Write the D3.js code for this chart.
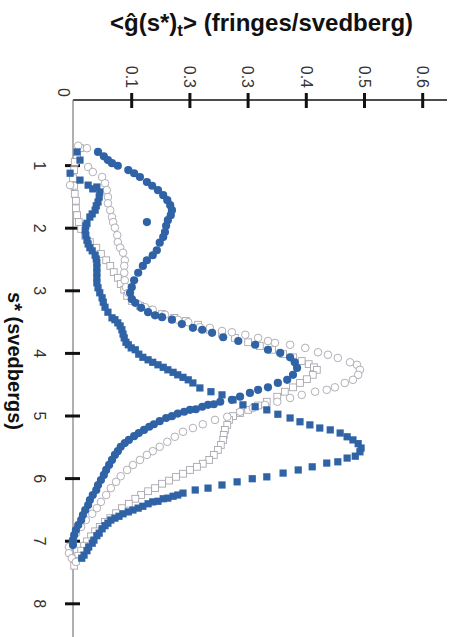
<!DOCTYPE html>
<html>
<head>
<meta charset="utf-8">
<script src="https://cdn.jsdelivr.net/npm/d3@7"></script>
<style>
  body { margin: 0; background: #fff; }
  text { font-family: "Liberation Sans", Arial, sans-serif; }
</style>
</head>
<body>
<div id="chart"></div>
<script>
/*
* DATA  (s* in svedbergs, g(s*) in fringes/svedberg)
*/
var gTicks = [0.1, 0.2, 0.3, 0.4, 0.5, 0.6];
var gTickLabels = ['0.1', '0.3', '0.3', '0.4', '0.5', '0.6'];
var sTicks = [1, 2, 3, 4, 5, 6, 7, 8];

// filled circles
var filledCircles = [[0.79,0.043],[0.86,0.053],[0.92,0.060],[0.97,0.067],[1.01,0.077],[1.08,0.095],[1.13,0.105],[1.19,0.115],[1.27,0.127],[1.33,0.136],[1.40,0.146],[1.48,0.155],[1.56,0.162],[1.64,0.167],[1.72,0.170],[1.80,0.168],[1.88,0.163],[1.91,0.127],[1.97,0.160],[2.07,0.158],[2.15,0.155],[2.24,0.149],[2.36,0.144],[2.44,0.137],[2.52,0.127],[2.61,0.120],[2.72,0.112],[2.84,0.105],[2.95,0.101],[3.04,0.098],[3.14,0.101],[3.20,0.107],[3.28,0.117],[3.35,0.129],[3.40,0.141],[3.43,0.153],[3.47,0.170],[3.54,0.187],[3.60,0.206],[3.63,0.222],[3.68,0.239],[3.75,0.258],[3.81,0.284],[3.87,0.313],[3.95,0.335],[4.00,0.356],[4.07,0.373],[4.15,0.381],[4.24,0.385],[4.35,0.378],[4.43,0.368],[4.48,0.352],[4.55,0.335],[4.59,0.318],[4.64,0.304],[4.70,0.287],[4.75,0.273],[4.78,0.253],[4.82,0.242],[4.83,0.232],[4.86,0.222],[4.90,0.211],[4.91,0.201],[4.94,0.191],[4.97,0.180],[5.01,0.170],[5.04,0.160],[5.09,0.149],[5.14,0.139],[5.18,0.131],[5.23,0.122],[5.28,0.113],[5.33,0.105],[5.39,0.096],[5.44,0.089],[5.50,0.082],[5.57,0.077],[5.63,0.072],[5.71,0.067],[5.79,0.062],[5.87,0.057],[5.95,0.053],[6.03,0.048],[6.11,0.043],[6.19,0.040],[6.27,0.034],[6.35,0.029],[6.43,0.026],[6.51,0.021],[6.59,0.017],[6.67,0.014],[6.75,0.009],[6.83,0.005],[6.91,0.002],[6.99,0.000],[7.07,0.000]];

// filled squares
var filledSquares = [[0.79,0.007],[0.92,0.012],[1.13,-0.005],[1.24,0.012],[1.32,0.026],[1.35,0.041],[1.38,0.034],[1.43,0.046],[1.51,0.045],[1.59,0.043],[1.65,0.040],[1.72,0.038],[1.78,0.033],[1.83,0.029],[1.93,0.024],[1.97,0.022],[2.04,0.021],[2.12,0.022],[2.20,0.024],[2.26,0.026],[2.32,0.029],[2.37,0.033],[2.44,0.038],[2.50,0.040],[2.56,0.041],[2.64,0.041],[2.72,0.041],[2.80,0.041],[2.88,0.041],[2.96,0.043],[3.04,0.046],[3.12,0.050],[3.19,0.052],[3.27,0.055],[3.35,0.060],[3.44,0.067],[3.47,0.072],[3.52,0.077],[3.57,0.081],[3.63,0.084],[3.70,0.086],[3.76,0.088],[3.83,0.091],[3.87,0.095],[3.92,0.100],[3.95,0.107],[4.02,0.113],[4.07,0.120],[4.11,0.129],[4.15,0.137],[4.19,0.146],[4.23,0.155],[4.27,0.163],[4.31,0.172],[4.35,0.180],[4.39,0.189],[4.43,0.198],[4.48,0.206],[4.56,0.218],[4.62,0.237],[4.67,0.256],[4.75,0.275],[4.83,0.292],[4.86,0.313],[4.91,0.333],[4.98,0.352],[5.04,0.373],[5.10,0.390],[5.15,0.407],[5.20,0.424],[5.23,0.442],[5.28,0.459],[5.34,0.471],[5.39,0.481],[5.45,0.490],[5.52,0.495],[5.58,0.493],[5.65,0.485],[5.68,0.471],[5.74,0.455],[5.76,0.436],[5.82,0.411],[5.87,0.387],[5.92,0.361],[5.98,0.333],[6.01,0.308],[6.06,0.282],[6.11,0.256],[6.16,0.232],[6.19,0.210],[6.24,0.189],[6.27,0.180],[6.29,0.172],[6.32,0.163],[6.33,0.155],[6.37,0.146],[6.38,0.137],[6.41,0.129],[6.45,0.120],[6.48,0.112],[6.51,0.103],[6.54,0.095],[6.57,0.086],[6.61,0.079],[6.64,0.072],[6.67,0.065],[6.72,0.060],[6.76,0.055],[6.81,0.050],[6.88,0.045],[6.92,0.041],[6.99,0.036],[7.04,0.033],[7.10,0.027],[7.16,0.024],[7.23,0.019],[7.28,0.015]];

// open circles
var openCircles = [[0.69,0.009],[0.73,0.024],[1.03,0.026],[1.11,0.034],[1.19,0.050],[1.29,0.055],[1.32,-0.005],[1.40,0.058],[1.51,0.060],[1.61,0.060],[1.72,0.064],[1.83,0.067],[1.91,0.069],[2.00,0.072],[2.12,0.076],[2.23,0.077],[2.32,0.081],[2.40,0.086],[2.52,0.089],[2.61,0.088],[2.72,0.088],[2.84,0.089],[2.95,0.091],[3.04,0.095],[3.14,0.101],[3.22,0.112],[3.27,0.124],[3.31,0.137],[3.39,0.158],[3.47,0.180],[3.51,0.198],[3.59,0.218],[3.60,0.235],[3.65,0.256],[3.67,0.273],[3.71,0.296],[3.76,0.318],[3.81,0.335],[3.84,0.347],[3.87,0.373],[3.92,0.399],[3.99,0.421],[4.03,0.438],[4.08,0.455],[4.15,0.476],[4.19,0.488],[4.27,0.493],[4.35,0.490],[4.43,0.481],[4.48,0.467],[4.55,0.450],[4.59,0.436],[4.62,0.416],[4.67,0.393],[4.72,0.373],[4.78,0.351],[4.83,0.330],[4.88,0.309],[4.94,0.287],[5.02,0.265],[5.07,0.244],[5.14,0.223],[5.20,0.206],[5.26,0.189],[5.34,0.175],[5.42,0.162],[5.50,0.149],[5.57,0.137],[5.63,0.127],[5.71,0.115],[5.79,0.103],[5.87,0.093],[5.97,0.082],[6.06,0.074],[6.16,0.065],[6.27,0.057],[6.38,0.048],[6.48,0.041],[6.57,0.033],[6.67,0.022],[6.78,0.014],[6.88,0.005],[6.99,0.000],[7.10,-0.007],[7.20,-0.007],[7.28,-0.002],[7.34,0.005]];

// open squares
var openSquares = [[0.73,0.012],[0.84,0.007],[0.95,0.003],[1.08,0.002],[1.21,0.000],[1.33,0.002],[1.46,0.003],[1.57,0.005],[1.69,0.005],[1.80,0.007],[1.91,0.010],[2.02,0.014],[2.13,0.021],[2.23,0.029],[2.32,0.040],[2.42,0.048],[2.52,0.057],[2.61,0.064],[2.71,0.070],[2.80,0.077],[2.90,0.082],[2.99,0.088],[3.09,0.093],[3.17,0.101],[3.25,0.115],[3.31,0.132],[3.38,0.153],[3.44,0.174],[3.49,0.194],[3.55,0.215],[3.63,0.235],[3.70,0.256],[3.76,0.278],[3.83,0.301],[3.89,0.321],[3.95,0.342],[4.02,0.361],[4.07,0.378],[4.13,0.393],[4.18,0.405],[4.23,0.414],[4.27,0.419],[4.35,0.412],[4.42,0.402],[4.48,0.390],[4.55,0.378],[4.62,0.364],[4.70,0.351],[4.78,0.333],[4.84,0.318],[4.91,0.301],[4.96,0.287],[5.01,0.275],[5.07,0.268],[5.15,0.265],[5.23,0.261],[5.31,0.259],[5.39,0.258],[5.47,0.254],[5.55,0.249],[5.63,0.242],[5.71,0.234],[5.77,0.223],[5.82,0.213],[5.87,0.201],[5.93,0.189],[5.98,0.177],[6.04,0.165],[6.09,0.153],[6.16,0.141],[6.21,0.129],[6.27,0.117],[6.33,0.107],[6.41,0.096],[6.48,0.084],[6.56,0.074],[6.64,0.064],[6.70,0.055],[6.78,0.046],[6.85,0.038],[6.93,0.031],[7.01,0.024],[7.08,0.019],[7.16,0.014],[7.24,0.009],[7.32,0.005],[7.40,0.002]];

var blue = '#2f63a6';
var openStroke = '#aaa6b0';

/*
* CHART  (drawn turned a quarter: s* runs down the page, g(s*) runs right)
*/
var width = 453, height = 637;

var svg = d3.select('#chart').append('svg')
    .attr('width', width)
    .attr('height', height);

svg.append('rect')
    .attr('width', width)
    .attr('height', height)
    .attr('fill', '#fff');

var x = d3.scaleLinear().domain([0, 0.6]).range([73, 422.2]);
var y = d3.scaleLinear().domain([0, 8]).range([102.5, 603.3]);

//Axis lines
svg.append('line')
    .attr('x1', x(0)).attr('x2', 447)
    .attr('y1', 100).attr('y2', 100)
    .attr('stroke', '#111')
    .attr('stroke-width', 1.3);

svg.append('line')
    .attr('x1', x(0)).attr('x2', x(0))
    .attr('y1', 100).attr('y2', height)
    .attr('stroke', '#7a7a7a')
    .attr('stroke-width', 1.2);

//g axis along the top
var gAxis = svg.append('g')
    .attr('transform', 'translate(0,100)')
    .call(d3.axisTop(x)
        .tickValues(gTicks)
        .tickFormat(function(d, i) { return gTickLabels[i]; }));

gAxis.select('.domain').remove();
gAxis.selectAll('.tick line')
    .attr('y1', -7).attr('y2', 8)
    .attr('stroke', '#111')
    .attr('stroke-width', 3);
gAxis.selectAll('.tick text')
    .attr('x', 0).attr('y', 0)
    .attr('dy', '0.35em')
    .attr('text-anchor', 'end')
    .attr('transform', 'translate(0,-12) rotate(90)')
    .style('font-size', '16px')
    .attr('fill', '#333');

svg.append('text')
    .attr('transform', 'translate(' + (x(0) - 9) + ',97) rotate(90)')
    .attr('dy', '0.35em')
    .attr('text-anchor', 'end')
    .style('font-size', '16px')
    .attr('fill', '#333')
    .text('0');

//s axis down the left
var sAxis = svg.append('g')
    .attr('transform', 'translate(' + x(0) + ',0)')
    .call(d3.axisLeft(y).tickValues(sTicks).tickFormat(d3.format('d')));

sAxis.select('.domain').remove();
sAxis.selectAll('.tick line')
    .attr('x1', -8).attr('x2', 7)
    .attr('stroke', '#111')
    .attr('stroke-width', 3);
sAxis.selectAll('.tick text')
    .attr('x', 0).attr('y', 0)
    .attr('dy', '0.35em')
    .attr('text-anchor', 'middle')
    .attr('transform', 'translate(-33,0) rotate(90)')
    .style('font-size', '16px')
    .attr('fill', '#333');

//Titles
var title = svg.append('text')
    .attr('x', 110)
    .attr('y', 31)
    .style('font-size', '24px')
    .style('font-weight', 'bold')
    .attr('fill', '#111');
title.append('tspan').text('<\u011d(s*)');
title.append('tspan').attr('dy', 5).style('font-size', '17px').text('t');
title.append('tspan').attr('dy', -5).text('> (fringes/svedberg)');

svg.append('text')
    .attr('transform', 'translate(15,361) rotate(90)')
    .attr('dy', '0.35em')
    .attr('text-anchor', 'middle')
    .style('font-size', '20px')
    .style('font-weight', 'bold')
    .attr('fill', '#111')
    .text('s* (svedbergs)');

//Markers
svg.append('g').selectAll('rect')
    .data(openSquares)
    .enter().append('rect')
    .attr('x', function(d) { return x(d[1]) - 3.4; })
    .attr('y', function(d) { return y(d[0]) - 3.4; })
    .attr('width', 6.8).attr('height', 6.8)
    .attr('fill', '#fff')
    .attr('stroke', openStroke)
    .attr('stroke-width', 0.9);

svg.append('g').selectAll('circle')
    .data(openCircles)
    .enter().append('circle')
    .attr('cx', function(d) { return x(d[1]); })
    .attr('cy', function(d) { return y(d[0]); })
    .attr('r', 3.8)
    .attr('fill', '#fff')
    .attr('stroke', openStroke)
    .attr('stroke-width', 0.9);

svg.append('g').selectAll('rect')
    .data(filledSquares)
    .enter().append('rect')
    .attr('x', function(d) { return x(d[1]) - 3.6; })
    .attr('y', function(d) { return y(d[0]) - 3.6; })
    .attr('width', 7.2).attr('height', 7.2)
    .attr('fill', blue);

svg.append('g').selectAll('circle')
    .data(filledCircles)
    .enter().append('circle')
    .attr('cx', function(d) { return x(d[1]); })
    .attr('cy', function(d) { return y(d[0]); })
    .attr('r', 4.1)
    .attr('fill', blue);
</script>
</body>
</html>
